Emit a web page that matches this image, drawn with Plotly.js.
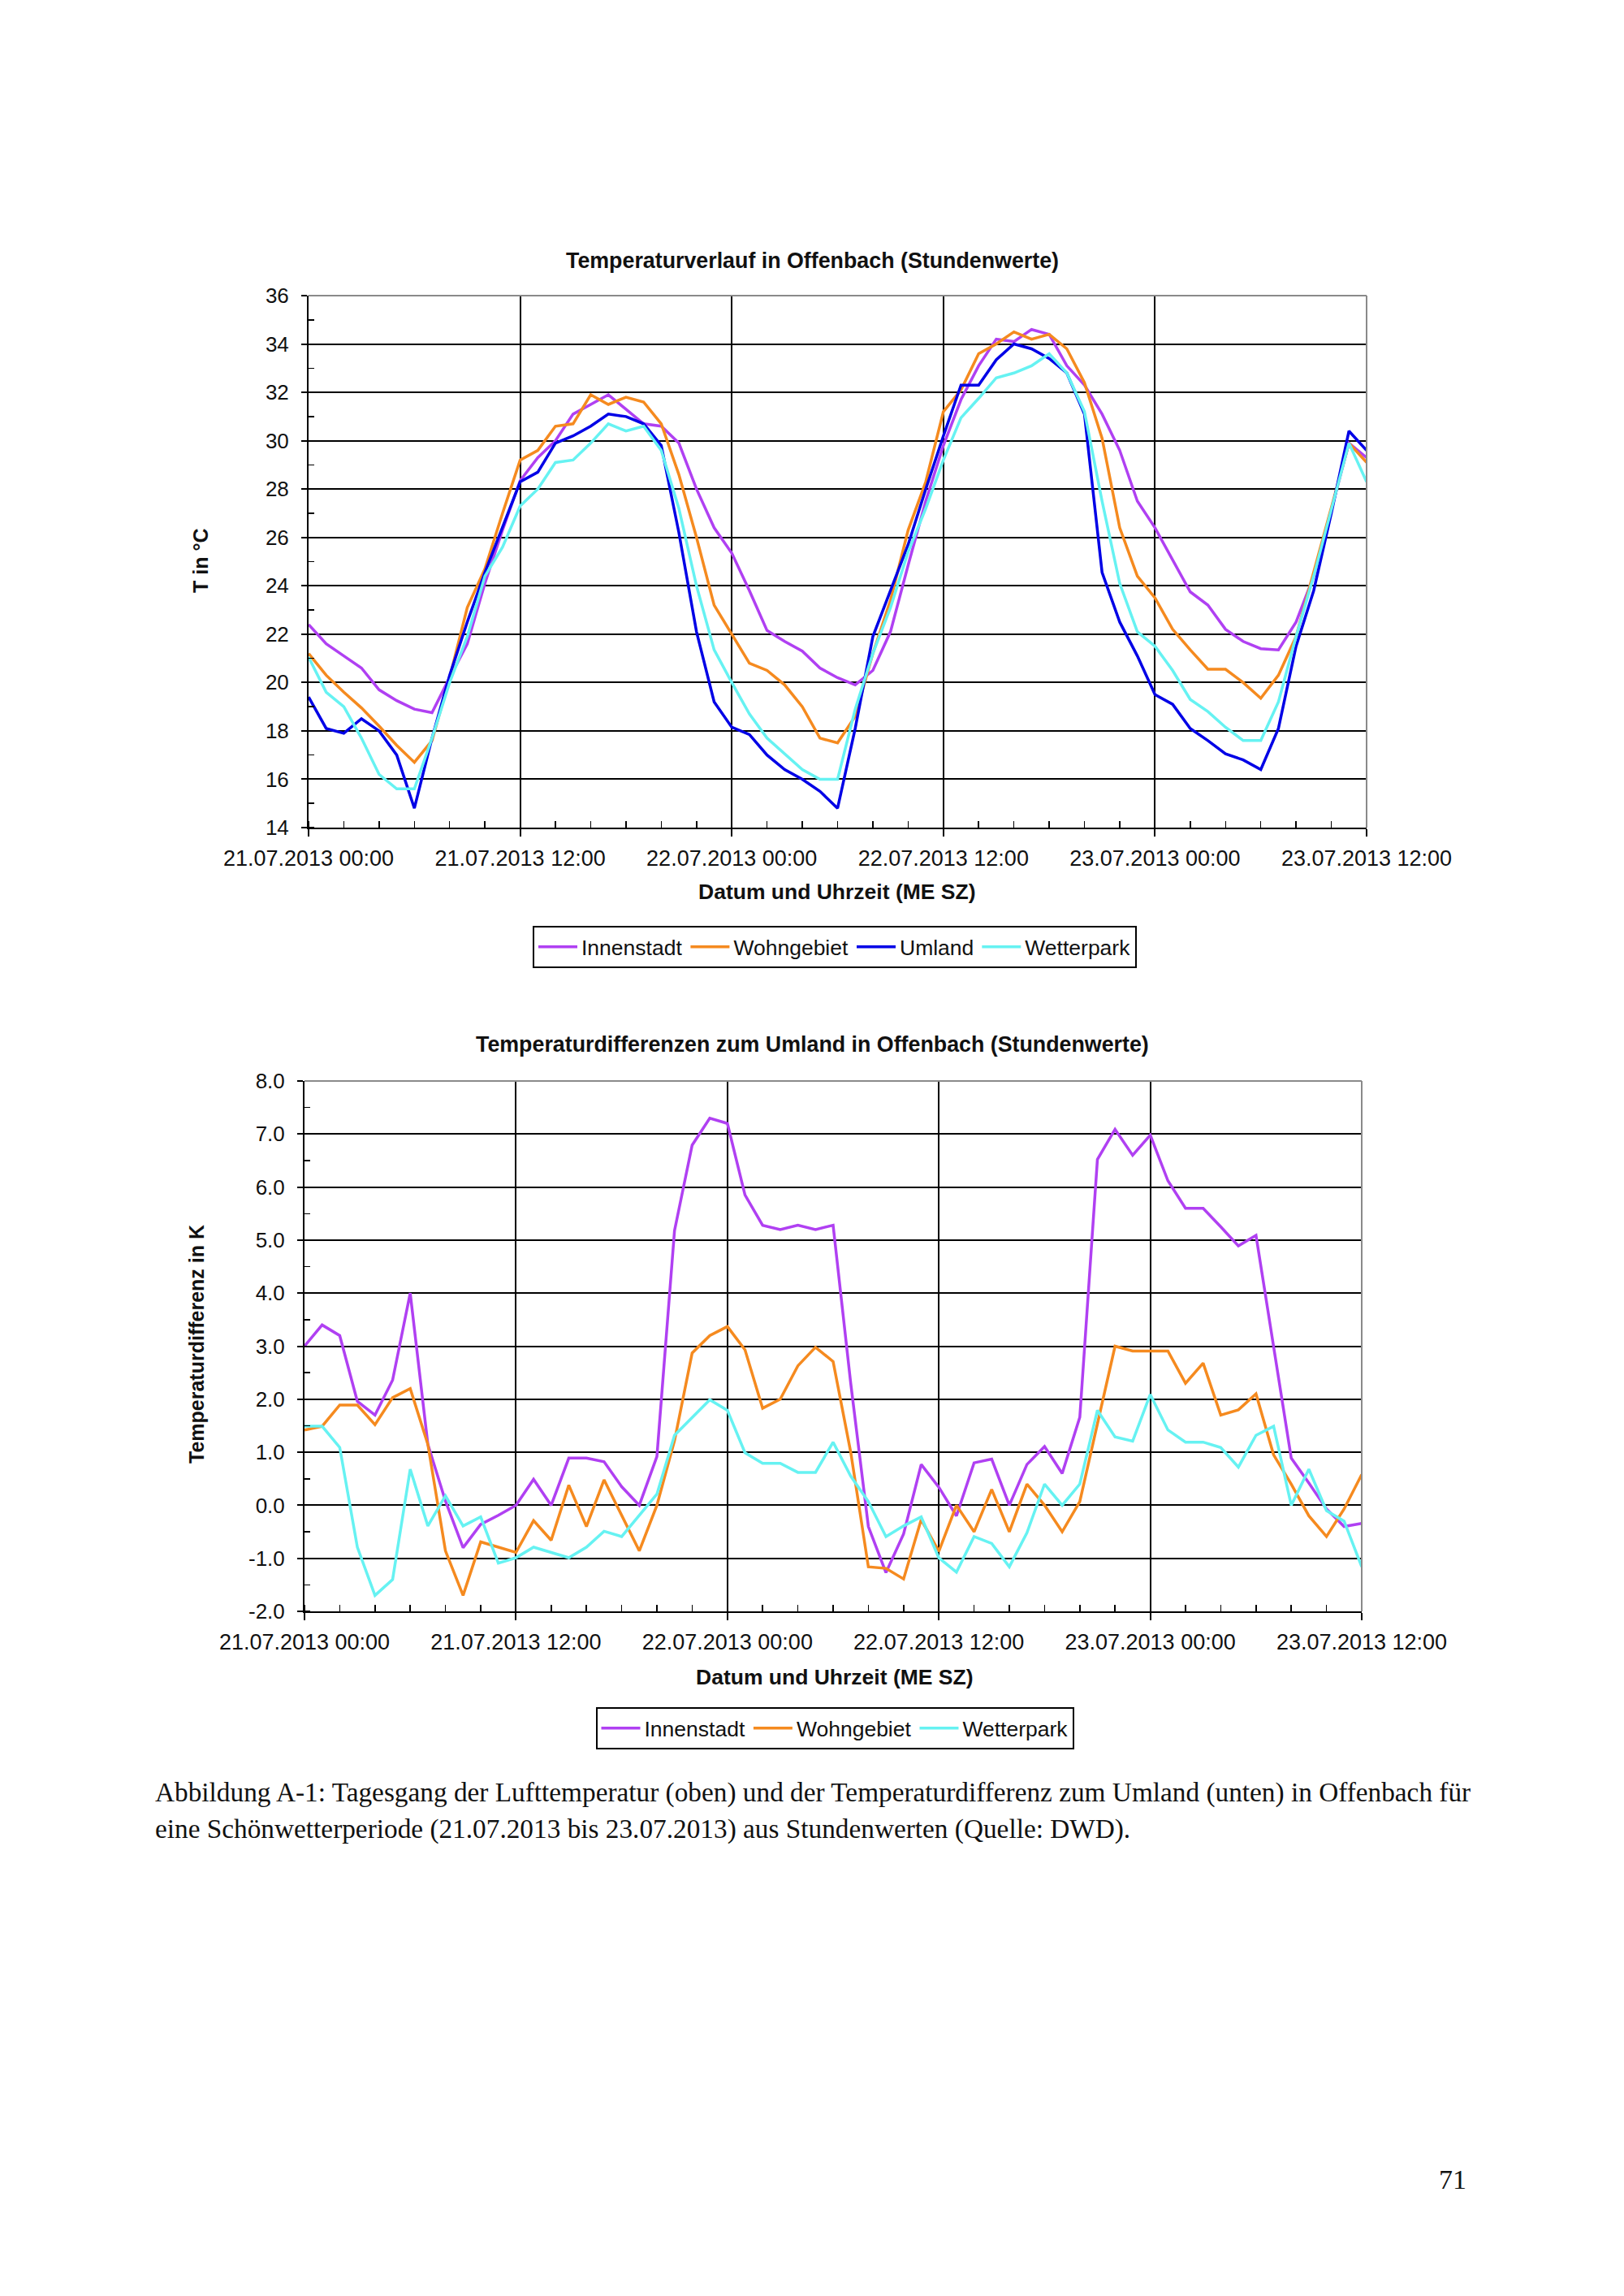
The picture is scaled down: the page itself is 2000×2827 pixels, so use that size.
<!DOCTYPE html>
<html><head><meta charset="utf-8">
<script src="https://cdn.plot.ly/plotly-3.0.1.min.js"></script>
<style>html,body{margin:0;padding:0;background:#fff}</style>
</head><body>
<div id="chart" style="width:2000px;height:2827px"></div>
<script>
// ---- data (hourly values, 21.07.2013 00:00 .. 23.07.2013 12:00) ----
const seriesNames = ['Innenstadt', 'Wohngebiet', 'Umland', 'Wetterpark'];
const tInnenstadt = [22.4,21.6,21.1,20.6,19.7,19.25,18.9,18.75,20.2,21.6,24.1,26.3,28.35,29.3,30.0,31.1,31.5,31.9,31.3,30.7,30.6,29.9,28.0,26.4,25.35,23.8,22.15,21.7,21.3,20.6,20.2,19.9,20.5,22.1,24.85,27.5,29.8,31.7,33.1,34.2,34.1,34.6,34.4,33.1,32.3,31.1,29.6,27.5,26.4,25.1,23.75,23.2,22.2,21.7,21.4,21.35,22.5,24.4,27.2,29.9,29.3];
const tWohngebiet = [21.2,20.3,19.6,18.95,18.2,17.4,16.7,17.6,20.2,23.1,24.7,27.0,29.2,29.6,30.6,30.7,31.9,31.5,31.8,31.6,30.7,28.6,26.0,23.2,22.0,20.8,20.5,19.9,19.0,17.7,17.5,18.6,21.2,23.4,26.3,28.3,31.2,32.1,33.6,34.0,34.5,34.2,34.4,33.8,32.4,30.1,26.4,24.4,23.5,22.2,21.35,20.55,20.55,20.0,19.35,20.3,21.9,24.55,27.2,29.9,29.1];
const tUmland = [19.4,18.1,17.9,18.5,18.0,17.0,14.8,17.7,20.3,22.5,24.55,26.4,28.3,28.7,29.9,30.2,30.6,31.1,31.0,30.7,29.8,26.2,22.1,19.2,18.15,17.85,17.0,16.4,16.0,15.5,14.8,18.1,21.9,23.8,25.7,28.0,30.2,32.3,32.3,33.35,34.0,33.8,33.4,32.8,31.1,24.55,22.5,21.1,19.5,19.1,18.1,17.6,17.05,16.8,16.4,18.1,21.5,23.8,27.0,30.4,29.6];
const tWetterpark = [21.05,19.6,19.0,17.7,16.2,15.6,15.6,17.7,20.0,21.9,24.4,25.6,27.3,28.0,29.1,29.2,29.9,30.7,30.4,30.6,29.6,27.2,24.0,21.35,20.0,18.7,17.7,17.05,16.4,16.0,16.0,18.9,21.2,23.1,25.4,27.2,29.2,30.95,31.75,32.6,32.8,33.1,33.6,32.8,31.2,27.5,24.1,22.1,21.5,20.5,19.3,18.8,18.15,17.6,17.6,19.2,21.9,24.4,27.2,29.9,28.3];

const dInnenstadt = [3.0,3.4,3.2,1.96,1.7,2.36,4.0,1.15,0.08,-0.8,-0.36,-0.19,0.0,0.49,0.0,0.89,0.89,0.82,0.35,0.0,0.92,5.18,6.79,7.3,7.2,5.85,5.28,5.2,5.28,5.2,5.28,2.3,-0.4,-1.27,-0.54,0.77,0.34,-0.2,0.8,0.87,0.0,0.77,1.11,0.6,1.66,6.52,7.09,6.6,6.98,6.12,5.6,5.6,5.25,4.89,5.09,3.03,0.89,0.42,-0.07,-0.4,-0.34];
const dWohngebiet = [1.42,1.49,1.89,1.89,1.52,2.03,2.2,1.15,-0.86,-1.7,-0.69,-0.79,-0.89,-0.29,-0.66,0.38,-0.4,0.48,-0.2,-0.86,0.0,1.22,2.87,3.2,3.37,2.93,1.83,2.0,2.63,2.98,2.71,1.0,-1.16,-1.19,-1.39,-0.27,-0.87,0.0,-0.5,0.3,-0.5,0.4,0.0,-0.5,0.07,1.55,3.0,2.91,2.91,2.91,2.3,2.68,1.7,1.8,2.1,0.95,0.4,-0.2,-0.59,-0.07,0.58];
const dWetterpark = [1.49,1.49,1.09,-0.79,-1.7,-1.4,0.68,-0.39,0.18,-0.39,-0.22,-1.09,-0.99,-0.79,-0.89,-0.99,-0.79,-0.49,-0.59,-0.19,0.21,1.32,1.66,1.99,1.79,0.99,0.79,0.79,0.62,0.62,1.19,0.55,0.07,-0.59,-0.39,-0.22,-0.99,-1.26,-0.59,-0.72,-1.16,-0.52,0.4,0.0,0.4,1.79,1.29,1.21,2.09,1.42,1.19,1.19,1.09,0.72,1.32,1.49,0.0,0.68,-0.1,-0.3,-1.16];

const xTickVals = ['2013-07-21 00:00','2013-07-21 12:00','2013-07-22 00:00','2013-07-22 12:00','2013-07-23 00:00','2013-07-23 12:00'];
const xTickText = ['21.07.2013 00:00','21.07.2013 12:00','22.07.2013 00:00','22.07.2013 12:00','23.07.2013 00:00','23.07.2013 12:00'];
const yDiffTickVals = [-2,-1,0,1,2,3,4,5,6,7,8];
const yDiffTickText = ['-2.0','-1.0','0.0','1.0','2.0','3.0','4.0','5.0','6.0','7.0','8.0'];

// ---- time axis (hourly timestamps) ----
function hourlyTimes(n) {
  const out = [];
  const t0 = Date.UTC(2013, 6, 21, 0, 0);
  for (let i = 0; i < n; i++) {
    out.push(new Date(t0 + i * 3600000).toISOString().slice(0, 16).replace('T', ' '));
  }
  return out;
}
const times = hourlyTimes(tInnenstadt.length);

const colors = {Innenstadt: '#b040f2', Wohngebiet: '#f58a1f', Umland: '#0000e6', Wetterpark: '#66f2f2'};
const FONT = 'Liberation Sans, Arial, sans-serif';

function tr(name, y, xa, ya, leg) {
  return {x: times, y: y, name: name, type: 'scatter', mode: 'lines', xaxis: xa, yaxis: ya, legend: leg,
          line: {color: colors[name], width: 3.5}};
}
const data = [
  tr('Innenstadt', tInnenstadt, 'x', 'y', 'legend'),
  tr('Wohngebiet', tWohngebiet, 'x', 'y', 'legend'),
  tr('Umland', tUmland, 'x', 'y', 'legend'),
  tr('Wetterpark', tWetterpark, 'x', 'y', 'legend'),
  tr('Innenstadt', dInnenstadt, 'x2', 'y2', 'legend2'),
  tr('Wohngebiet', dWohngebiet, 'x2', 'y2', 'legend2'),
  tr('Wetterpark', dWetterpark, 'x2', 'y2', 'legend2')
];

function xAxis(domain, anchor) {
  return {
    domain: domain, anchor: anchor, type: 'date',
    range: [xTickVals[0], xTickVals[xTickVals.length - 1]],
    tickmode: 'array', tickvals: xTickVals, ticktext: xTickText,
    ticks: 'outside', ticklen: 9, tickwidth: 2, tickcolor: '#000',
    ticklabelstandoff: 4,
    showgrid: true, gridcolor: '#000', gridwidth: 2,
    showline: true, linecolor: '#000', linewidth: 2,
    zeroline: false,
    tickfont: {family: FONT, size: 27, color: '#111'},
    minor: {tickmode: 'linear', tick0: xTickVals[0], dtick: 7200000, ticks: 'inside', ticklen: 8,
            tickwidth: 1.5, tickcolor: '#000', showgrid: false}
  };
}
function yAxisBase(domain, anchor) {
  return {
    domain: domain, anchor: anchor,
    ticks: 'outside', ticklen: 7, tickwidth: 2, tickcolor: '#000',
    ticklabelstandoff: 10,
    showgrid: true, gridcolor: '#000', gridwidth: 2,
    showline: true, linecolor: '#000', linewidth: 2,
    zeroline: false,
    tickfont: {family: FONT, size: 26, color: '#111'}
  };
}

const W = 2000, H = 2827;
const px = v => v / W;
const py = v => 1 - v / H;

const yTop = Object.assign(yAxisBase([py(1019), py(364)], 'x'), {
  range: [14, 36], tickmode: 'linear', tick0: 14, dtick: 2,
  minor: {tickmode: 'linear', tick0: 14, dtick: 1, ticks: 'inside', ticklen: 7, tickwidth: 1.5, tickcolor: '#000', showgrid: false}
});
const yBot = Object.assign(yAxisBase([py(1984), py(1331)], 'x2'), {
  range: [-2, 8], tickmode: 'array', tickvals: yDiffTickVals, ticktext: yDiffTickText,
  minor: {tickmode: 'linear', tick0: -2, dtick: 0.5, ticks: 'inside', ticklen: 7, tickwidth: 1.5, tickcolor: '#000', showgrid: false}
});

function ann(text, x, y, opts) {
  return Object.assign({text: text, x: x, y: y, xref: 'paper', yref: 'paper', showarrow: false,
    xanchor: 'center', yanchor: 'middle', font: {family: FONT, size: 25, color: '#111'}}, opts || {});
}
const serif = {family: 'Liberation Serif, Times New Roman, serif', size: 33.3, color: '#111'};
const titleFont = {family: FONT, size: 26.8, color: '#111'};
const axTitleFont = {family: FONT, size: 26.5, color: '#111'};

const annotations = [
  ann('<b>Temperaturverlauf in Offenbach (Stundenwerte)</b>', px(1001), py(321), {font: titleFont}),
  ann('<b>T in °C</b>', px(247), py(691), {textangle: -90}),
  ann('<b>Datum und Uhrzeit (ME SZ)</b>', px(1031), py(1098), {font: axTitleFont}),
  ann('<b>Temperaturdifferenzen zum Umland in Offenbach (Stundenwerte)</b>', px(1001), py(1286), {font: titleFont}),
  ann('<b>Temperaturdifferenz in K</b>', px(242), py(1655), {textangle: -90}),
  ann('<b>Datum und Uhrzeit (ME SZ)</b>', px(1028), py(2065), {font: axTitleFont}),
  ann('Abbildung A-1: Tagesgang der Lufttemperatur (oben) und der Temperaturdifferenz zum Umland (unten) in Offenbach für',
      px(189), py(2207), {xanchor: 'left', font: serif}),
  ann('eine Schönwetterperiode (21.07.2013 bis 23.07.2013) aus Stundenwerten (Quelle: DWD).',
      px(189), py(2252), {xanchor: 'left', font: serif}),
  ann('71', px(1789), py(2683), {font: Object.assign({}, serif, {size: 34})})
];

function border(xa, ya) {
  return [
    {type: 'line', xref: xa + ' domain', yref: ya + ' domain', x0: 0, x1: 1, y0: 1, y1: 1, line: {color: '#8a8a8a', width: 2}},
    {type: 'line', xref: xa + ' domain', yref: ya + ' domain', x0: 1, x1: 1, y0: 0, y1: 1, line: {color: '#8a8a8a', width: 2}}
  ];
}

const legendBase = {
  orientation: 'h', xanchor: 'center', yanchor: 'middle',
  bordercolor: '#000', borderwidth: 2, bgcolor: '#fff',
  font: {family: FONT, size: 26.5, color: '#111'}, itemwidth: 48, tracegroupgap: 0
};

const layout = {
  width: W, height: H,
  margin: {l: 0, r: 0, t: 0, b: 0},
  paper_bgcolor: '#fff', plot_bgcolor: '#fff',
  font: {family: FONT, color: '#111'},
  showlegend: true,
  xaxis: xAxis([px(380), px(1683)], 'y'),
  yaxis: yTop,
  xaxis2: xAxis([px(375), px(1677)], 'y2'),
  yaxis2: yBot,
  legend: Object.assign({}, legendBase, {x: px(1028), y: py(1166)}),
  legend2: Object.assign({}, legendBase, {x: px(1028), y: py(2128)}),
  annotations: annotations,
  shapes: border('x', 'y').concat(border('x2', 'y2'))
};

Plotly.newPlot('chart', data, layout, {displayModeBar: false, staticPlot: true});
</script>
</body></html>
